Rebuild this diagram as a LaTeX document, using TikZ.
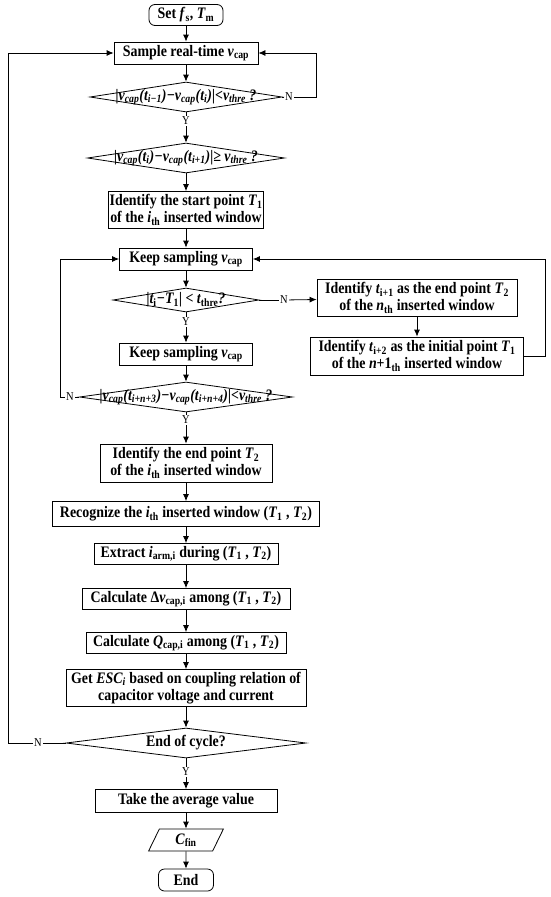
\documentclass[tikz,border=0pt]{standalone}
\usepackage{fontspec}
\setmainfont{Liberation Serif}[FakeStretch=0.87]
\usetikzlibrary{shapes.geometric, arrows.meta}

\begin{document}
\begin{tikzpicture}[x=1pt, y=-1pt, >={Latex[length=7pt,width=6pt]}, line width=0.8pt,
    box/.style={draw, rectangle, inner sep=1pt, align=center, font=\fontsize{16}{17}\selectfont\bfseries},
    term/.style={box, rounded corners=6pt},
    dec/.style={draw, diamond, inner sep=0pt, font=\fontsize{16}{17}\selectfont\bfseries\itshape},
    io/.style={draw, trapezium, trapezium left angle=72, trapezium right angle=108, trapezium stretches=true, inner sep=0pt, font=\fontsize{16}{17}\selectfont\bfseries},
    yn/.style={inner sep=1pt, font=\fontsize{12}{12}\selectfont}]

    \useasboundingbox (0,0) rectangle (550,897);

    \node[term, minimum width=74, minimum height=21] (set) at (186,15) {Set \textit{f}\textsubscript{s}, \textit{T}\textsubscript{m}};
    \node[box, minimum width=144, minimum height=22] (samp) at (186,53) {Sample real-time \textit{v}\textsubscript{cap}};

    \node[dec, minimum width=192, minimum height=30] (dv1) at (186,97) {\makebox[0pt]{|\textit{v}\textsubscript{cap}(\textit{t}\textsubscript{i−1})−\textit{v}\textsubscript{cap}(\textit{t}\textsubscript{i})|<\textit{v}\textsubscript{thre} ?}};
    \node[yn] (na) at (289,97) {N};
    \node[yn] (ya) at (186,121) {Y};
    \coordinate (ra) at (316,97);

    \node[dec, minimum width=197, minimum height=30] (dv2) at (186,158) {\makebox[0pt]{|\textit{v}\textsubscript{cap}(\textit{t}\textsubscript{i})−\textit{v}\textsubscript{cap}(\textit{t}\textsubscript{i+1})|≥ \textit{v}\textsubscript{thre} ?}};

    \node[box, minimum width=141, minimum height=37] (tone) at (186,210) {Identify the start point \textit{T}\textsubscript{1}\\of the \textit{i}\textsubscript{th} inserted window};

    \node[box, minimum width=133, minimum height=22] (keepa) at (186,259) {Keep sampling \textit{v}\textsubscript{cap}};
    \node[dec, minimum width=146, minimum height=24] (dt) at (186,300) {\makebox[0pt]{|\textit{t}\textsubscript{\upshape i}−\textit{T}\textsubscript{\upshape 1}| < \textit{t}\textsubscript{\upshape thre}?}};
    \node[yn] (nc) at (284,300) {N};
    \node[yn] (yc) at (186,322) {Y};

    \node[box, minimum width=200, minimum height=37] (idn) at (417,298) {Identify \textit{t}\textsubscript{i+1} as the end point \textit{T}\textsubscript{2}\\of the \textit{n}\textsubscript{th} inserted window};
    \node[box, minimum width=213, minimum height=38] (idnn) at (417,356) {Identify \textit{t}\textsubscript{i+2} as the initial point \textit{T}\textsubscript{1}\\of the \textit{n}+1\textsubscript{th} inserted window};
    \coordinate (rb) at (545,356);

    \node[box, minimum width=133, minimum height=22] (keepb) at (186,354) {Keep sampling \textit{v}\textsubscript{cap}};
    \node[dec, minimum width=213, minimum height=30] (dv4) at (186,397) {\makebox[0pt]{|\textit{v}\textsubscript{cap}(\textit{t}\textsubscript{i+n+3})−\textit{v}\textsubscript{cap}(\textit{t}\textsubscript{i+n+4})|<\textit{v}\textsubscript{thre} ?}};
    \node[yn] (nd) at (70,397) {N};
    \node[yn] (yd) at (186,420) {Y};
    \coordinate (lb) at (60,397);

    \node[box, minimum width=172, minimum height=38] (ttwo) at (186,463) {Identify the end point \textit{T}\textsubscript{2}\\of the \textit{i}\textsubscript{th} inserted window};
    \node[box, minimum width=267, minimum height=25] (recw) at (186,514) {Recognize the \textit{i}\textsubscript{th} inserted window (\textit{T}\textsubscript{1} , \textit{T}\textsubscript{2})};
    \node[box, minimum width=184, minimum height=21] (extr) at (186,554) {Extract \textit{i}\textsubscript{arm,i} during (\textit{T}\textsubscript{1} , \textit{T}\textsubscript{2})};
    \node[box, minimum width=208, minimum height=21] (calv) at (186,599) {Calculate Δ\textit{v}\textsubscript{cap,i} among (\textit{T}\textsubscript{1} , \textit{T}\textsubscript{2})};
    \node[box, minimum width=200, minimum height=21] (calq) at (186,643) {Calculate \textit{Q}\textsubscript{cap,i} among (\textit{T}\textsubscript{1} , \textit{T}\textsubscript{2})};
    \node[box, minimum width=240, minimum height=37] (esc) at (186,688) {Get \textit{ESC}\textsubscript{\textit{i}} based on coupling relation of\\capacitor voltage and current};

    \node[dec, minimum width=240, minimum height=30] (eoc) at (186,743) {\makebox[0pt]{\upshape End of cycle?}};
    \node[yn] (ne) at (38,743) {N};
    \node[yn] (ye) at (186,772) {Y};
    \coordinate (lc) at (8,743);

    \node[box, minimum width=182, minimum height=23] (avg) at (186,801) {Take the average value};
    \node[io, minimum width=75, minimum height=22] (cfin) at (186,840) {\textit{C}\textsubscript{fin}};
    \node[term, minimum width=55, minimum height=22] (fin) at (186,880) {End};

    % main column
    \draw[->] (set) -- (samp);
    \draw[->] (samp) -- (dv1);
    \draw (dv1) -- (ya);
    \draw[->] (ya) -- (dv2);
    \draw[->] (dv2) -- (tone);
    \draw[->] (tone) -- (keepa);
    \draw[->] (keepa) -- (dt);
    \draw (dt) -- (yc);
    \draw[->] (yc) -- (keepb);
    \draw[->] (keepb) -- (dv4);
    \draw (dv4) -- (yd);
    \draw[->] (yd) -- (ttwo);
    \draw[->] (ttwo) -- (recw);
    \draw[->] (recw) -- (extr);
    \draw[->] (extr) -- (calv);
    \draw[->] (calv) -- (calq);
    \draw[->] (calq) -- (esc);
    \draw[->] (esc) -- (eoc);
    \draw (eoc) -- (ye);
    \draw[->] (ye) -- (avg);
    \draw[->] (avg) -- (cfin);
    \draw[->] (cfin) -- (fin);

    % loops
    \draw (dv1.east) -- (na);
    \draw[->] (na) -- (ra) |- (samp);
    \draw (dt.east) -- (nc);
    \draw[->] (nc) -- (idn);
    \draw[->] (idn) -- (idnn);
    \draw[->] (idnn.east) -- (rb) |- (keepa);
    \draw (dv4.west) -- (nd);
    \draw[->] (nd) -- (lb) |- (keepa);
    \draw (eoc.west) -- (ne);
    \draw[->] (ne) -- (lc) |- (samp);

\end{tikzpicture}
\end{document}
